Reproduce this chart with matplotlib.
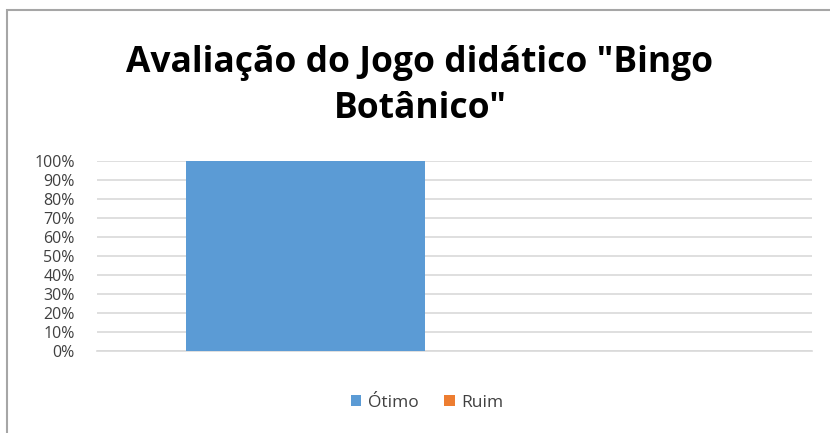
import matplotlib.pyplot as plt
from matplotlib.patches import Rectangle
from matplotlib.ticker import PercentFormatter

# survey result for the didactic game
categories = ["Avaliação"]
series_names = ["Ótimo", "Ruim"]
otimo = [1.00]
ruim = [0.00]
y_ticks = [0.0, 0.1, 0.2, 0.3, 0.4, 0.5, 0.6, 0.7, 0.8, 0.9, 1.0]
title_lines = ['Avaliação do Jogo didático "Bingo', 'Botânico"']

colors = {"Ótimo": "#5B9BD5", "Ruim": "#ED7D31"}

fig = plt.figure(figsize=(8.3, 4.33), dpi=100)
fig.patch.set_facecolor("white")

# outer chart border (top and left edges visible)
fig.add_artist(Rectangle((7 / 830, -0.1), 1.2, 1 - 10 / 433 + 0.1,
                         transform=fig.transFigure, fill=False,
                         edgecolor="#A6A6A6", linewidth=1.5))

ax = fig.add_axes([97 / 830, 1 - 351 / 433, (812 - 97) / 830, (351 - 161) / 433])

bar_w = 0.334
x0 = -0.375
ax.bar([x0 + bar_w / 2], otimo, width=bar_w, color=colors["Ótimo"], label="Ótimo", zorder=3)
ax.bar([0.375 - bar_w / 2], ruim, width=bar_w, color=colors["Ruim"], label="Ruim", zorder=3)

ax.set_xlim(-0.5, 0.5)
ax.set_ylim(0, 1.0)
ax.set_yticks(y_ticks)
ax.yaxis.set_major_formatter(PercentFormatter(1.0, decimals=0))
ax.set_xticks([])
ax.grid(axis="y", color="#D9D9D9", linewidth=1.2, zorder=0)
ax.set_axisbelow(True)
for side in ["top", "right", "left"]:
    ax.spines[side].set_visible(False)
ax.spines["bottom"].set_color("#D9D9D9")
ax.spines["bottom"].set_linewidth(1.2)
ax.tick_params(axis="y", length=0, pad=16, labelsize=11.5, labelcolor="#404040")
for lbl in ax.get_yticklabels():
    lbl.set_fontfamily("Open Sans")

# two-line title, each line placed on its own baseline
for text, base in zip(title_lines, [72, 118]):
    fig.text(420 / 830, 1 - base / 433, text, ha="center", va="baseline",
             fontsize=25.5, fontweight="bold", family="Open Sans", color="#000000")

handles, labels = ax.get_legend_handles_labels()
fig.legend(handles, labels, loc="center", bbox_to_anchor=(427 / 830, 1 - 403 / 433),
           ncol=2, frameon=False, handlelength=0.6, handleheight=0.6,
           handletextpad=0.35, columnspacing=1.5, labelcolor="#404040",
           prop={"family": "Open Sans", "size": 12.5})

fig.savefig("out.png", dpi=100, facecolor="white")
